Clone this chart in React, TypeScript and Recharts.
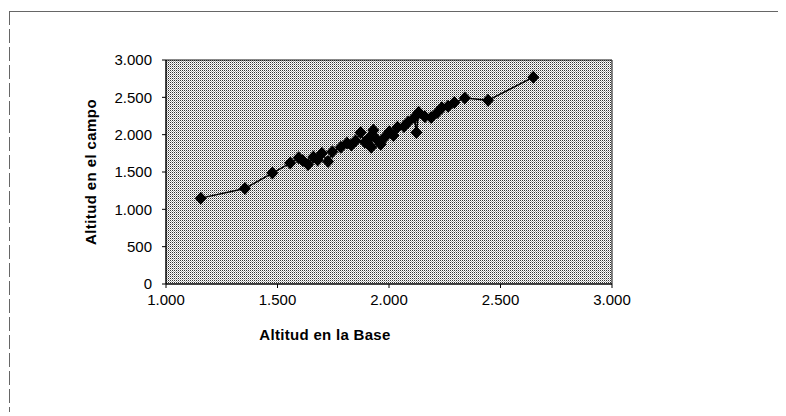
import React from 'react';
import { ScatterChart, Scatter, XAxis, YAxis, ReferenceArea } from 'recharts';

// altitud medida en la base (eje X) y en el campo (eje Y), en metros
const baseAlt = [
  1156, 1354, 1477, 1557, 1595, 1614, 1637, 1661, 1680, 1699, 1727, 1746, 1784, 1812,
  1831, 1850, 1873, 1892, 1911, 1920, 1930, 1944, 1963, 1982, 2001, 2020, 2038, 2067,
  2086, 2114, 2123, 2133, 2161, 2189, 2218, 2237, 2265, 2293, 2340, 2444, 2647,
];
const campoAlt = [
  1150, 1280, 1485, 1620, 1690, 1650, 1600, 1700, 1660, 1750, 1640, 1770, 1830, 1890,
  1860, 1920, 2030, 1900, 1960, 1830, 2060, 1940, 1870, 1970, 2040, 1990, 2100, 2110,
  2170, 2230, 2030, 2300, 2240, 2230, 2300, 2360, 2380, 2430, 2490, 2460, 2770,
];

const xTicks = [1000, 1500, 2000, 2500, 3000];
const xTickLabels = ['1.000', '1.500', '2.000', '2.500', '3.000'];
const yTicks = [0, 500, 1000, 1500, 2000, 2500, 3000];
const yTickLabels = ['0', '500', '1.000', '1.500', '2.000', '2.500', '3.000'];

const xTitle = 'Altitud en la Base';
const yTitle = 'Altitud en el campo';

const data = baseAlt.map((x, i) => ({ x, y: campoAlt[i] }));

const FONT = '"Liberation Sans", Arial, sans-serif';
const tickStyle = { fill: '#000', fontSize: 15, fontFamily: FONT };

const Diamond = (props: any) => {
  const { cx, cy } = props;
  if (cx == null || cy == null) return null;
  return (
    <polygon
      points={`${cx},${cy - 6.5} ${cx + 6},${cy} ${cx},${cy + 6.5} ${cx - 6},${cy}`}
      fill="#000"
    />
  );
};

const XTitle = (props: any) => {
  const vb = props.viewBox;
  return (
    <text
      x={vb.x + 159}
      y={vb.y + 56}
      textAnchor="middle"
      fontFamily={FONT}
      fontWeight="bold"
      fontSize={15}
      letterSpacing={0.3}
      fill="#000"
    >
      {xTitle}
    </text>
  );
};

const YTitle = (props: any) => {
  const vb = props.viewBox;
  const x = vb.x + 30;
  const y = vb.y + vb.height / 2;
  return (
    <text
      x={x}
      y={y}
      transform={`rotate(-90 ${x} ${y})`}
      textAnchor="middle"
      fontFamily={FONT}
      fontWeight="bold"
      fontSize={15}
      letterSpacing={0.4}
      fill="#000"
    >
      {yTitle}
    </text>
  );
};

const App: React.FC = () => {
  return (
    <div style={{ position: 'relative', left: 1, top: 3, width: 776, height: 404 }}>
      <div style={{ position: 'absolute', left: 0, top: 0, width: 776, height: 1, background: '#666' }} />
      <div
        style={{
          position: 'absolute',
          left: 0,
          top: 0,
          width: 1,
          height: 404,
          background: 'repeating-linear-gradient(to bottom, #666 0 14px, transparent 14px 18px)',
        }}
      />
      <div style={{ position: 'absolute', left: 1, top: 1 }}>
        <ScatterChart width={770} height={396} margin={{ top: 48, right: 168, bottom: 34, left: 56 }}>
          <defs>
            <pattern id="stipple" width="2" height="2" patternUnits="userSpaceOnUse">
              <rect width="2" height="2" fill="#fff" />
              <rect x="0" y="0" width="1" height="1" fill="#333" />
              <rect x="1" y="1" width="1" height="1" fill="#aaa" />
            </pattern>
          </defs>
          <ReferenceArea
            x1={1000}
            x2={3000}
            y1={0}
            y2={3000}
            fill="url(#stipple)"
            fillOpacity={1}
            stroke="#111"
            strokeWidth={1}
          />
          <XAxis
            type="number"
            dataKey="x"
            domain={[1000, 3000]}
            ticks={xTicks}
            tickFormatter={(v: number) => xTickLabels[xTicks.indexOf(v)]}
            height={90}
            tickSize={4}
            tickMargin={6}
            axisLine={{ stroke: '#000' }}
            tickLine={{ stroke: '#000' }}
            tick={tickStyle}
            interval={0}
            label={{ content: XTitle }}
          />
          <YAxis
            type="number"
            dataKey="y"
            domain={[0, 3000]}
            ticks={yTicks}
            tickFormatter={(v: number) => yTickLabels[yTicks.indexOf(v)]}
            width={100}
            tickSize={4}
            tickMargin={10}
            axisLine={{ stroke: '#000' }}
            tickLine={{ stroke: '#000' }}
            tick={tickStyle}
            interval={0}
            label={{ content: YTitle }}
          />
          <Scatter
            data={data}
            line={{ stroke: '#000', strokeWidth: 1.5 }}
            lineType="joint"
            shape={Diamond}
            isAnimationActive={false}
          />
        </ScatterChart>
      </div>
    </div>
  );
};

export default App;
